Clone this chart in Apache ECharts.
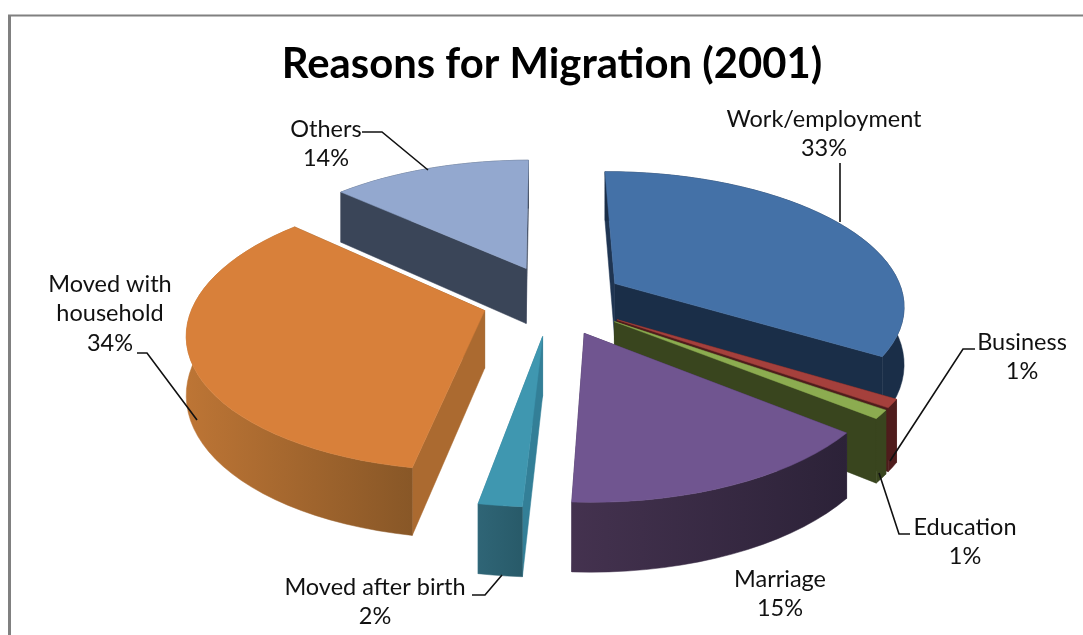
<!DOCTYPE html>
<html><head><meta charset="utf-8">
<style>html,body{margin:0;padding:0;background:#fff}#c{width:1083px;height:635px}</style>
<script src="https://cdn.jsdelivr.net/npm/echarts@6/dist/echarts.min.js"></script>
</head><body><div id="c"></div>
<script>
const categories = ['Work/employment','Business','Education','Marriage','Moved after birth','Moved with household','Others'];
const shares = [33,1,1,15,2,34,14];
const titleText = 'Reasons for Migration (2001)';

// Drawing style (one entry per slice, same order as categories)
const topColors  = ['#4471A7','#A5403C','#8CAC50','#705590','#3F97B0','#D8803A','#93A8CF'];
const startFace  = ['#1F3552','#4F1C1C','#39451E','#3A2B4E','#337F97','#AB6A30','#3A4558'];
const endFace    = ['#1A2E48','#4F1C1C','#39451E','#3A2B4E','#337F97','#8A5A2A','#3A4558'];
const wallLeft   = ['#1A2E48','#4F1C1C','#39451E','#44324F','#2F6576','#BD7535','#3A4558'];
const wallRight  = ['#1A2E48','#4F1C1C','#39451E','#2C2238','#285A69','#885727','#3A4558'];
const explodeScale = [1,1,1,1,1,0.9,1];
const nudgeX = [-3,0,0,0,0,0,4];
// label anchor (centre x, first line y), and leader paths
const labelPos = [[824,119],[1022,342],[965,527],[780,579],[375,587],[110,284],[326,129]];
const labelBreak = {5:'Moved with\nhousehold'};
const leaders = [
  [[840,163],[840,222]],
  [[975,349],[963,349],[890,461]],
  [[910,534],[899,534],[879,473]],
  null,
  [[472,595],[485,595],[502,575]],
  [[137,353],[147,353],[197,420]],
  [[362,132],[382,132],[428,170]]
];

// Projection of the exploded disc
const P = {cx:551, cy:300, A:290, B:133, k:0.148, e:0.266, h:57, step:3, rot:3*Math.PI/180, rotSpan:40*Math.PI/180};
function proj(X,Y,Z,dx){const w=1+P.k*Y;return [P.cx+dx+P.A*X/w, P.cy-P.B*Y/w+P.h*Z/w];}
// angular correction for the picture's perspective: little at the back, full elsewhere
function warp(t){
  const fromTop=Math.min(t,2*Math.PI-t);
  return t+P.rot*(-0.1+1.1*Math.min(1,fromTop/P.rotSpan));
}

const total = shares.reduce((a,b)=>a+b,0);
const spans = []; let acc=0;
shares.forEach(v=>{const a0=acc/total*2*Math.PI; acc+=v; spans.push([a0,acc/total*2*Math.PI]);});
const rad = i => (spans[i][0]+spans[i][1])/2+P.rot*0.8;
// paint back-to-front
const order = shares.map((_,i)=>i).sort((a,b)=>Math.cos(rad(b))-Math.cos(rad(a)));

function renderSlice(params, api){
  const i = api.value(1);
  const [a0,a1] = spans[i];
  const m = rad(i);
  const ex = P.e*explodeScale[i], dx = nudgeX[i];
  const ax = ex*Math.sin(m), ay = ex*Math.cos(m);
  const n = Math.max(2,Math.ceil((a1-a0)*180/Math.PI/P.step));
  const tops=[], bots=[];
  for(let j=0;j<=n;j++){
    const t=warp(a0+(a1-a0)*j/n), X=ax+Math.sin(t), Y=ay+Math.cos(t);
    tops.push(proj(X,Y,0,dx)); bots.push(proj(X,Y,1,dx));
  }
  const at=proj(ax,ay,0,dx), ab=proj(ax,ay,1,dx);
  const poly=(pts,fill)=>({type:'polygon',shape:{points:pts},style:{fill:fill,stroke:fill,lineWidth:0.5}});
  const grad={type:'linear',x:0,y:0,x2:1,y2:0,colorStops:[{offset:0,color:wallLeft[i]},{offset:1,color:wallRight[i]}]};
  const fStart=poly([at,tops[0],bots[0],ab],startFace[i]);
  const fEnd=poly([at,tops[n],bots[n],ab],endFace[i]);
  const faces = Math.cos(a0)>Math.cos(a1) ? [fStart,fEnd] : [fEnd,fStart];
  return {type:'group',children:faces.concat([
    poly(tops.concat(bots.slice().reverse()),grad),
    poly([at].concat(tops),topColors[i])
  ])};
}

const graphics = [
  {type:'line',shape:{x1:8,y1:15.5,x2:1083,y2:15.5},style:{stroke:'#808080',lineWidth:2}},
  {type:'line',shape:{x1:9.5,y1:15,x2:9.5,y2:635},style:{stroke:'#808080',lineWidth:3}}
];
leaders.forEach(p=>{ if(p) graphics.push({type:'polyline',shape:{points:p},style:{stroke:'#111',lineWidth:1.6,fill:null},z:5}); });
categories.forEach((c,i)=>{
  const name = labelBreak[i]||c;
  const lines = (name+'\n'+shares[i]+'%').split('\n');
  lines.forEach((t,j)=>graphics.push({type:'text',x:labelPos[i][0],y:labelPos[i][1]+j*29.5,z:6,
    style:{text:t,fill:'#111',font:'23.5px Lato, "Open Sans", sans-serif',align:'center',verticalAlign:'middle'}}));
});

const chart = echarts.init(document.getElementById('c'),null,{renderer:'canvas'});
chart.setOption({
  animation:false,
  backgroundColor:'#fff',
  title:{text:titleText,left:547,top:39,textAlign:'center',textStyle:{fontFamily:'Lato, "Open Sans", sans-serif',fontWeight:'bold',fontSize:41.8,color:'#000'}},
  graphic:graphics,
  series:[{type:'custom',coordinateSystem:'none',renderItem:renderSlice,
    data:order.map(i=>[shares[i],i])}]
});
</script></body></html>
